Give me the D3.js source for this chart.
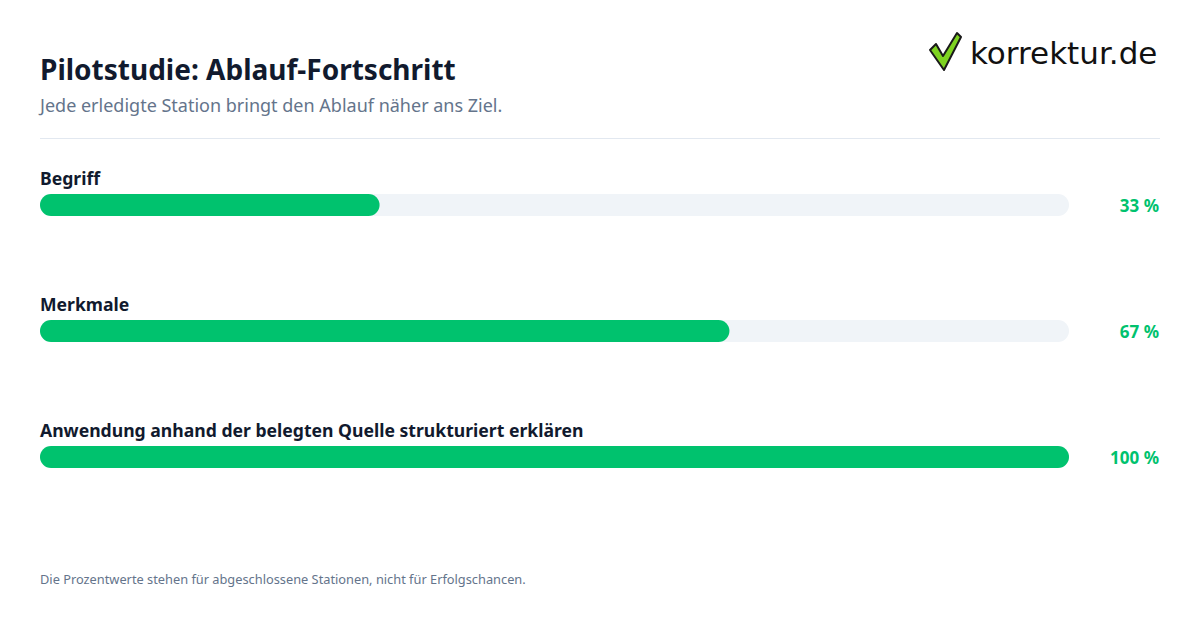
<!DOCTYPE html>
<html><head><meta charset="utf-8">
<script src="https://cdn.jsdelivr.net/npm/d3@7"></script>
<style>body{margin:0;background:#fff}svg{display:block}</style>
</head><body>
<svg id="c" width="1200" height="630"></svg>
<script>
const categories = ["Begriff", "Merkmale", "Anwendung anhand der belegten Quelle strukturiert erklären"];
const values = [33, 67, 100];
const tickLabels = ["33 %", "67 %", "100 %"];

const svg = d3.select("#c");
const font = "'Noto Sans', sans-serif";
svg.append("rect").attr("width",1200).attr("height",630).attr("fill","#fff");
svg.append("text").attr("x",40).attr("y",80).attr("font-family",font).attr("font-size",28).attr("font-weight",700).attr("fill","#111a2e").text("Pilotstudie: Ablauf-Fortschritt");
svg.append("text").attr("x",40).attr("y",112).attr("font-family",font).attr("font-size",18).attr("fill","#64748b").text("Jede erledigte Station bringt den Ablauf näher ans Ziel.");
svg.append("line").attr("x1",40).attr("x2",1160).attr("y1",138.5).attr("y2",138.5).attr("stroke","#e2e8f0");

// logo
const lg = svg.append("g");
lg.append("path").attr("d","M930,50 L936,44 L943,56 L957,33 L961,37 L944,70 Z").attr("fill","#7ed321").attr("stroke","#1a1a1a").attr("stroke-width",2).attr("stroke-linejoin","round");
lg.append("text").attr("x",970).attr("y",64).attr("font-family","'DejaVu Sans', sans-serif").attr("font-size",31).attr("fill","#111").text("korrektur.de");

const x = d3.scaleLinear().domain([0,100]).range([40,1069]);
const y = d3.scaleBand().domain(categories).range([160,538]).paddingInner(0);
const g = svg.selectAll(".row").data(categories).enter().append("g");
g.append("text").attr("x",40).attr("y",c=>y(c)+25).attr("font-family",font).attr("font-size",17.6).attr("font-weight",700).attr("fill","#111a2e").text(c=>c);
g.append("rect").attr("x",x(0)).attr("y",c=>y(c)+34).attr("width",x(100)-x(0)).attr("height",22).attr("rx",11).attr("fill","#f0f4f8");
g.append("rect").attr("x",x(0)).attr("y",c=>y(c)+34).attr("width",(c,i)=>x(values[i])-x(0)).attr("height",22).attr("rx",11).attr("fill","#00c26e");
g.append("text").attr("x",1159).attr("y",c=>y(c)+52).attr("text-anchor","end").attr("font-family",font).attr("font-size",17).attr("font-weight",700).attr("fill","#00c26e").text((c,i)=>tickLabels[i]);

svg.append("text").attr("x",40).attr("y",584).attr("font-family",font).attr("font-size",12.8).attr("fill","#64748b").text("Die Prozentwerte stehen für abgeschlossene Stationen, nicht für Erfolgschancen.");
</script>
</body></html>
